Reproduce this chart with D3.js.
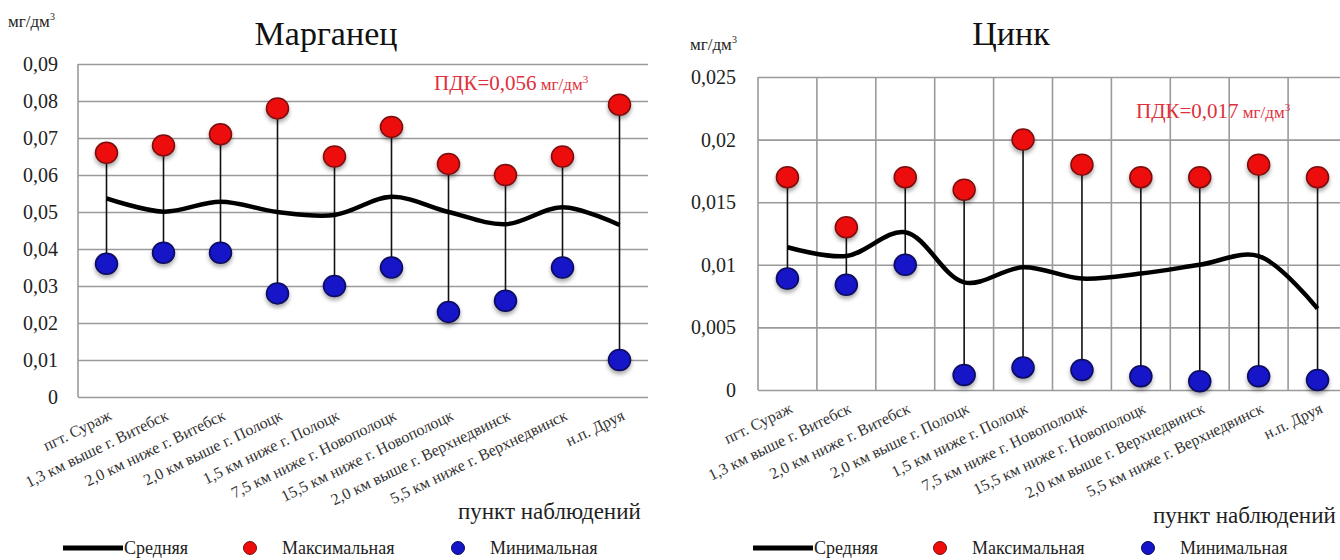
<!DOCTYPE html>
<html>
<head>
<meta charset="utf-8">
<script src="https://cdn.jsdelivr.net/npm/d3@7"></script>
<style>
  body { margin: 0; background: #fff; }
  svg { display: block; }
  svg text { font-family: "Liberation Serif", "Times New Roman", serif !important; }
</style>
</head>
<body>
<svg id="chart" width="1340" height="560"></svg>
<script>
// Observation points along the river (shared by both panels)
const stations = [
  "пгт. Сураж",
  "1,3 км выше г. Витебск",
  "2,0 км ниже г. Витебск",
  "2,0 км выше г. Полоцк",
  "1,5 км ниже г. Полоцк",
  "7,5 км ниже г. Новополоцк",
  "15,5 км ниже г. Новополоцк",
  "2,0 км выше г. Верхнедвинск",
  "5,5 км ниже г. Верхнедвинск",
  "н.п. Друя"
];

// Manganese, mg/dm3
const mnMean = [0.0537, 0.0501, 0.0528, 0.0500, 0.0492, 0.0541, 0.0500, 0.0467, 0.0513, 0.0465];
const mnMax  = [0.066, 0.068, 0.071, 0.078, 0.065, 0.073, 0.063, 0.060, 0.065, 0.079];
const mnMin  = [0.036, 0.039, 0.039, 0.028, 0.030, 0.035, 0.023, 0.026, 0.035, 0.010];
const mnTicks = [0, 0.01, 0.02, 0.03, 0.04, 0.05, 0.06, 0.07, 0.08, 0.09];
const mnTickLabels = ["0", "0,01", "0,02", "0,03", "0,04", "0,05", "0,06", "0,07", "0,08", "0,09"];
const mnPdk = 0.056;
const mnPdkLabel = "ПДК=0,056";

// Zinc, mg/dm3
const znMean = [0.0114, 0.0107, 0.0126, 0.0086, 0.0098, 0.0089, 0.0093, 0.0100, 0.0107, 0.0065];
const znMax  = [0.017, 0.013, 0.017, 0.016, 0.020, 0.018, 0.017, 0.017, 0.018, 0.017];
const znMin  = [0.0089, 0.0084, 0.0100, 0.0012, 0.0018, 0.0016, 0.0011, 0.0007, 0.0011, 0.0008];
const znTicks = [0, 0.005, 0.01, 0.015, 0.02, 0.025];
const znTickLabels = ["0", "0,005", "0,01", "0,015", "0,02", "0,025"];
const znPdk = 0.017;
const znPdkLabel = "ПДК=0,017";

const unitLabel = "мг/дм";
const xTitle = "пункт наблюдений";
const legendNames = ["Средняя", "Максимальная", "Минимальная"];

const svg = d3.select("#chart");

// soft shadow used under the limit line and the markers
const defs = svg.append("defs");
const sh = defs.append("filter").attr("id", "shadow")
  .attr("x", "-20%").attr("y", "-200%").attr("width", "140%").attr("height", "500%");
sh.append("feGaussianBlur").attr("in", "SourceAlpha").attr("stdDeviation", 2.2).attr("result", "b");
sh.append("feOffset").attr("in", "b").attr("dy", 2.5).attr("result", "o");
sh.append("feComponentTransfer").attr("in", "o").attr("result", "t")
  .append("feFuncA").attr("type", "linear").attr("slope", 0.35);
const sm = sh.append("feMerge");
sm.append("feMergeNode").attr("in", "t");
sm.append("feMergeNode").attr("in", "SourceGraphic");

function drawPanel(o) {
  const g = svg.append("g");
  const x = d3.scaleBand().domain(stations).range([o.left, o.right]).padding(0);
  const y = d3.scaleLinear().domain([0, o.ticks[o.ticks.length - 1]]).range([o.bottom, o.top]);

  // horizontal grid + tick labels
  const yAxis = d3.axisLeft(y)
    .tickValues(o.ticks)
    .tickFormat((d, i) => o.tickLabels[i])
    .tickSize(-(o.right - o.left))
    .tickPadding(o.tickPad);
  const ya = g.append("g").attr("transform", `translate(${o.left},0)`).call(yAxis);
  ya.select(".domain").remove();
  ya.selectAll(".tick line").attr("stroke", "#9a9a9a").attr("stroke-width", 1.6);
  ya.selectAll(".tick text").attr("fill", "#222").attr("font-size", o.tickFont);

  // vertical lines: left axis only, or full band grid
  const vx = o.vgrid ? d3.range(stations.length + 1).map(i => o.left + i * x.bandwidth()) : [o.left];
  g.append("g").selectAll("line").data(vx).join("line")
    .attr("x1", d => d).attr("x2", d => d)
    .attr("y1", o.top).attr("y2", o.bottom)
    .attr("stroke", "#9a9a9a").attr("stroke-width", 1.6);

  // category labels
  const xa = g.append("g").attr("transform", `translate(0,${o.bottom})`)
    .call(d3.axisBottom(x).tickSize(0).tickPadding(0));
  xa.select(".domain").remove();
  xa.selectAll(".tick text")
    .attr("font-size", 16).attr("fill", "#333")
    .attr("text-anchor", "end")
    .attr("dy", 0)
    .attr("transform", "translate(6,22) rotate(-26)");

  const cx = d => x(d) + x.bandwidth() / 2;

  // limit line (ПДК)
  g.append("line")
    .attr("x1", o.left - 4).attr("x2", o.pdkEnd)
    .attr("y1", y(o.pdk)).attr("y2", y(o.pdk))
    .attr("stroke", "#cc4b55").attr("stroke-width", 5)
    .attr("filter", "url(#shadow)");

  // whiskers from max to min
  g.append("g").selectAll("line").data(stations).join("line")
    .attr("x1", cx).attr("x2", cx)
    .attr("y1", (d, i) => y(o.max[i])).attr("y2", (d, i) => y(o.min[i]))
    .attr("stroke", "#111").attr("stroke-width", 1.6);

  // mean curve
  const line = d3.line().x((d, i) => cx(stations[i])).y(d => y(d)).curve(d3.curveCatmullRom.alpha(0.5));
  g.append("path").datum(o.mean).attr("d", line)
    .attr("fill", "none").attr("stroke", "#000").attr("stroke-width", 4.5);

  // markers
  g.append("g").selectAll("ellipse").data(o.max).join("ellipse")
    .attr("cx", (d, i) => cx(stations[i])).attr("cy", d => y(d))
    .attr("rx", 11).attr("ry", 10.5)
    .attr("fill", "#ee0c0c").attr("stroke", "#7a1010").attr("stroke-width", 1.5)
    .attr("filter", "url(#shadow)");
  g.append("g").selectAll("ellipse").data(o.min).join("ellipse")
    .attr("cx", (d, i) => cx(stations[i])).attr("cy", d => y(d))
    .attr("rx", 11).attr("ry", 10.5)
    .attr("fill", "#1414c8").attr("stroke", "#0a0a5a").attr("stroke-width", 1.5)
    .attr("filter", "url(#shadow)");

  // ПДК label
  const pt = g.append("text").attr("x", o.pdkX).attr("y", o.pdkY)
    .attr("fill", "#e0303c").attr("font-size", 21);
  pt.append("tspan").text(o.pdkLabel);
  pt.append("tspan").attr("font-size", 17).text(" " + unitLabel);
  pt.append("tspan").attr("font-size", 11).attr("dy", -7).text("3");

  // title
  g.append("text").attr("x", o.titleX).attr("y", 45)
    .attr("text-anchor", "middle").attr("font-size", 34).attr("fill", "#111").text(o.title);

  // unit label
  const ut = g.append("text").attr("x", o.unitX).attr("y", o.unitY)
    .attr("font-size", 17).attr("fill", "#222");
  ut.append("tspan").text(unitLabel);
  ut.append("tspan").attr("font-size", 10).attr("dy", -7).text("3");

  // axis title
  g.append("text").attr("x", o.xTitleX).attr("y", o.xTitleY)
    .attr("font-size", 23).attr("fill", "#222").text(xTitle);

  // legend
  const ly = 548;
  const lg = g.append("g");
  lg.append("line").attr("x1", o.legX).attr("x2", o.legX + 60).attr("y1", ly).attr("y2", ly)
    .attr("stroke", "#000").attr("stroke-width", 5);
  lg.append("text").attr("x", o.legX + 61).attr("y", ly + 6).attr("font-size", 18)
    .attr("fill", "#222").text(legendNames[0]);
  lg.append("circle").attr("cx", o.legX + 187).attr("cy", ly).attr("r", 6.5)
    .attr("fill", "#ee0c0c").attr("stroke", "#7a1010");
  lg.append("text").attr("x", o.legX + 219).attr("y", ly + 6).attr("font-size", 18)
    .attr("fill", "#222").text(legendNames[1]);
  lg.append("circle").attr("cx", o.legX + 395).attr("cy", ly).attr("r", 6.5)
    .attr("fill", "#1414c8").attr("stroke", "#0a0a5a");
  lg.append("text").attr("x", o.legX + 427).attr("y", ly + 6).attr("font-size", 18)
    .attr("fill", "#222").text(legendNames[2]);
}

drawPanel({
  title: "Марганец", titleX: 326,
  left: 78, right: 648, top: 64, bottom: 397,
  ticks: mnTicks, tickLabels: mnTickLabels, tickFont: 20, tickPad: 20,
  vgrid: false,
  mean: mnMean, max: mnMax, min: mnMin,
  pdk: mnPdk, pdkLabel: mnPdkLabel, pdkEnd: 667, pdkX: 434, pdkY: 90,
  unitX: 8, unitY: 27,
  xTitleX: 458, xTitleY: 519,
  legX: 63
});

drawPanel({
  title: "Цинк", titleX: 1011,
  left: 758, right: 1347, top: 77, bottom: 390,
  ticks: znTicks, tickLabels: znTickLabels, tickFont: 20, tickPad: 22,
  vgrid: true,
  mean: znMean, max: znMax, min: znMin,
  pdk: znPdk, pdkLabel: znPdkLabel, pdkEnd: 1340, pdkX: 1136, pdkY: 118,
  unitX: 690, unitY: 50,
  xTitleX: 1153, xTitleY: 523,
  legX: 753
});
</script>
</body>
</html>
